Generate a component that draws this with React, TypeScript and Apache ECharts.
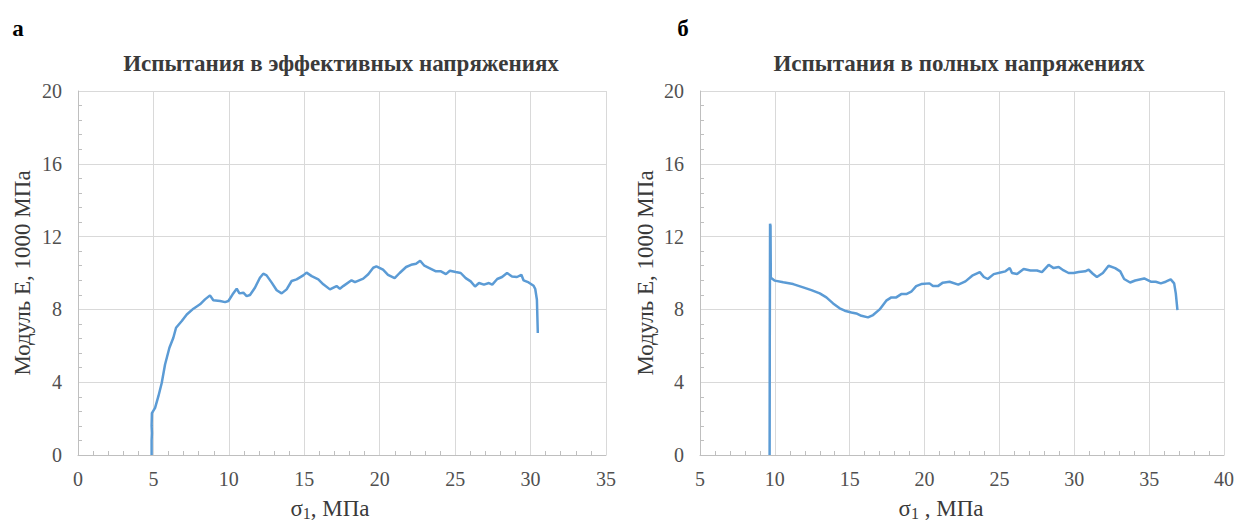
import React, { useEffect, useRef } from "react";
import * as echarts from "echarts";

// ---- data ----
const titleLeft = "Испытания в эффективных напряжениях";
const titleRight = "Испытания в полных напряжениях";
const yAxisName = "Модуль Е, 1000 МПа";
const panelLabels = ["а", "б"];

// [σ1, MPa ; E, 1000 MPa]
const effectivePoints: [number, number][] = [
  [4.88, 0], [4.88, 0.8], [4.9, 1.2], [4.88, 1.6], [4.9, 2.3], [5.11, 2.59], [5.33, 3.23],
  [5.55, 3.96], [5.77, 4.97], [6.06, 5.89], [6.32, 6.44], [6.5, 6.99], [6.88, 7.36],
  [7.21, 7.72], [7.65, 8.04], [8.09, 8.28], [8.42, 8.55], [8.75, 8.77], [8.97, 8.5],
  [9.42, 8.46], [9.75, 8.4], [9.97, 8.46], [10.25, 8.83], [10.52, 9.14], [10.7, 8.88],
  [10.96, 8.92], [11.18, 8.73], [11.4, 8.79], [11.73, 9.19], [12.06, 9.74], [12.28, 9.96],
  [12.5, 9.87], [12.84, 9.47], [13.17, 9.05], [13.5, 8.88], [13.83, 9.1], [14.16, 9.56],
  [14.49, 9.65], [14.93, 9.87], [15.15, 10.02], [15.49, 9.83], [15.93, 9.65], [16.26, 9.38],
  [16.7, 9.1], [17.14, 9.28], [17.36, 9.14], [17.58, 9.28], [18.13, 9.6], [18.36, 9.5],
  [18.91, 9.69], [19.24, 9.93], [19.57, 10.29], [19.78, 10.36], [20.22, 10.18], [20.55, 9.9],
  [20.99, 9.72], [21.32, 10.0], [21.75, 10.33], [22.08, 10.45], [22.41, 10.51], [22.68, 10.67],
  [22.96, 10.4], [23.29, 10.27], [23.73, 10.09], [24.06, 10.09], [24.39, 9.94], [24.65, 10.12],
  [25.04, 10.05], [25.37, 10.0], [25.7, 9.72], [26.03, 9.54], [26.32, 9.26], [26.58, 9.45],
  [26.91, 9.36], [27.24, 9.45], [27.46, 9.36], [27.79, 9.67], [28.11, 9.78], [28.44, 10.0],
  [28.77, 9.81], [29.1, 9.78], [29.39, 9.9], [29.54, 9.59], [29.87, 9.48], [30.2, 9.3],
  [30.31, 9.12], [30.42, 8.53], [30.48, 6.7],
];

const totalPoints: [number, number][] = [
  [9.65, 0], [9.66, 6], [9.68, 12.7], [9.71, 12.6], [9.73, 9.75], [9.78, 9.71], [10, 9.58],
  [10.56, 9.49], [11.22, 9.39], [11.89, 9.21], [12.44, 9.06], [13, 8.88], [13.44, 8.66],
  [13.89, 8.33], [14.33, 8.06], [14.67, 7.93], [15.11, 7.83], [15.44, 7.78], [15.78, 7.65],
  [16.22, 7.56], [16.56, 7.69], [17, 8.0], [17.44, 8.48], [17.78, 8.66], [18.11, 8.66],
  [18.44, 8.84], [18.78, 8.84], [19.11, 8.97], [19.44, 9.28], [19.78, 9.39], [20.33, 9.43],
  [20.56, 9.28], [20.89, 9.28], [21.22, 9.47], [21.67, 9.52], [22.25, 9.36], [22.73, 9.54],
  [23.18, 9.85], [23.69, 10.05], [23.96, 9.78], [24.22, 9.67], [24.62, 9.94], [25.07, 10.03],
  [25.4, 10.09], [25.69, 10.27], [25.84, 10.0], [26.18, 9.94], [26.62, 10.22], [27.07, 10.14],
  [27.51, 10.14], [27.84, 10.05], [28.29, 10.45], [28.62, 10.27], [28.96, 10.33], [29.29, 10.14],
  [29.62, 10.0], [29.96, 10.0], [30.29, 10.05], [30.73, 10.09], [30.96, 10.18], [31.24, 9.96],
  [31.51, 9.78], [31.91, 10.0], [32.29, 10.4], [32.73, 10.27], [33.07, 10.09], [33.33, 9.67],
  [33.73, 9.48], [34.07, 9.59], [34.67, 9.7], [35.11, 9.52], [35.44, 9.52], [35.78, 9.43],
  [36.11, 9.52], [36.44, 9.65], [36.67, 9.43], [36.78, 8.88], [36.89, 7.96],
];

const xRangeLeft = [0, 35];
const xRangeRight = [5, 40];
const yRange = [0, 20];

const FONT = "Liberation Serif";
const LINE = "#5B9BD5";
const GRID = "#D9D9D9";
const AXIS = "#BFBFBF";
const TEXT = "#3A3A3A";
const TICK = "#505050";

function xAxisFor(range: number[], gridIndex: number) {
  return {
    type: "value",
    gridIndex,
    min: range[0],
    max: range[1],
    interval: 5,
    axisLine: { show: true, lineStyle: { color: AXIS, width: 1 } },
    axisTick: { show: false, inside: true },
    minorTick: { show: true, splitNumber: 5, length: 4, lineStyle: { color: AXIS } },
    splitLine: { show: true, lineStyle: { color: GRID, width: 1 } },
    axisLabel: { color: TICK, fontFamily: FONT, fontSize: 20, margin: 14 },
  };
}

function yAxisFor(gridIndex: number) {
  return {
    type: "value",
    gridIndex,
    min: yRange[0],
    max: yRange[1],
    interval: 4,
    axisLine: { show: true, lineStyle: { color: AXIS, width: 1 } },
    axisTick: { show: false, inside: true },
    minorTick: { show: true, splitNumber: 5, length: 4, lineStyle: { color: AXIS } },
    splitLine: { show: true, lineStyle: { color: GRID, width: 1 } },
    axisLabel: { color: TICK, fontFamily: FONT, fontSize: 20, margin: 16 },
  };
}

function sigmaText(x: number, y: number, suffix: string) {
  return {
    type: "text",
    x,
    y,
    style: {
      text: "{s|σ}{sub|1}{s|" + suffix + "}",
      align: "center",
      verticalAlign: "middle",
      fill: TEXT,
      rich: {
        s: { fontFamily: FONT, fontSize: 23, lineHeight: 26, fill: TEXT },
        sub: { fontFamily: FONT, fontSize: 16, lineHeight: 16, verticalAlign: "bottom", fill: TEXT },
      },
    },
  };
}

export default function App() {
  const ref = useRef<HTMLDivElement>(null);
  useEffect(() => {
    if (!ref.current) return;
    const chart = echarts.init(ref.current, undefined, { renderer: "svg" });
    chart.setOption({
      animation: false,
      backgroundColor: "#ffffff",
      textStyle: { fontFamily: FONT },
      grid: [
        { left: 78, top: 91, width: 528, height: 364 },
        { left: 700, top: 91, width: 524, height: 364 },
      ],
      xAxis: [xAxisFor(xRangeLeft, 0), xAxisFor(xRangeRight, 1)],
      yAxis: [yAxisFor(0), yAxisFor(1)],
      series: [
        {
          type: "line",
          xAxisIndex: 0,
          yAxisIndex: 0,
          data: effectivePoints,
          showSymbol: false,
          lineStyle: { color: LINE, width: 2.5 },
          itemStyle: { color: LINE },
        },
        {
          type: "line",
          xAxisIndex: 1,
          yAxisIndex: 1,
          data: totalPoints,
          showSymbol: false,
          lineStyle: { color: LINE, width: 2.5 },
          itemStyle: { color: LINE },
        },
      ],
      graphic: [
        {
          type: "text",
          x: 18,
          y: 28,
          style: { text: panelLabels[0], font: "bold 23px " + FONT, fill: "#000", align: "center", verticalAlign: "middle" },
        },
        {
          type: "text",
          x: 683,
          y: 28,
          style: { text: panelLabels[1], font: "bold 23px " + FONT, fill: "#000", align: "center", verticalAlign: "middle" },
        },
        {
          type: "text",
          x: 341,
          y: 63,
          style: { text: titleLeft, font: "bold 23px " + FONT, fill: TEXT, align: "center", verticalAlign: "middle" },
        },
        {
          type: "text",
          x: 959,
          y: 63,
          style: { text: titleRight, font: "bold 23px " + FONT, fill: TEXT, align: "center", verticalAlign: "middle" },
        },
        {
          type: "text",
          x: 22,
          y: 273,
          rotation: Math.PI / 2,
          style: { text: yAxisName, font: "23px " + FONT, fill: TEXT, align: "center", verticalAlign: "middle" },
        },
        {
          type: "text",
          x: 645,
          y: 273,
          rotation: Math.PI / 2,
          style: { text: yAxisName, font: "23px " + FONT, fill: TEXT, align: "center", verticalAlign: "middle" },
        },
        sigmaText(330, 508, ", МПа"),
        sigmaText(941, 508, " , МПа"),
      ],
    });
    return () => chart.dispose();
  }, []);
  return (
    <div
      ref={ref}
      style={{ position: "absolute", left: 0, top: 0, width: 1237, height: 522 }}
    />
  );
}
